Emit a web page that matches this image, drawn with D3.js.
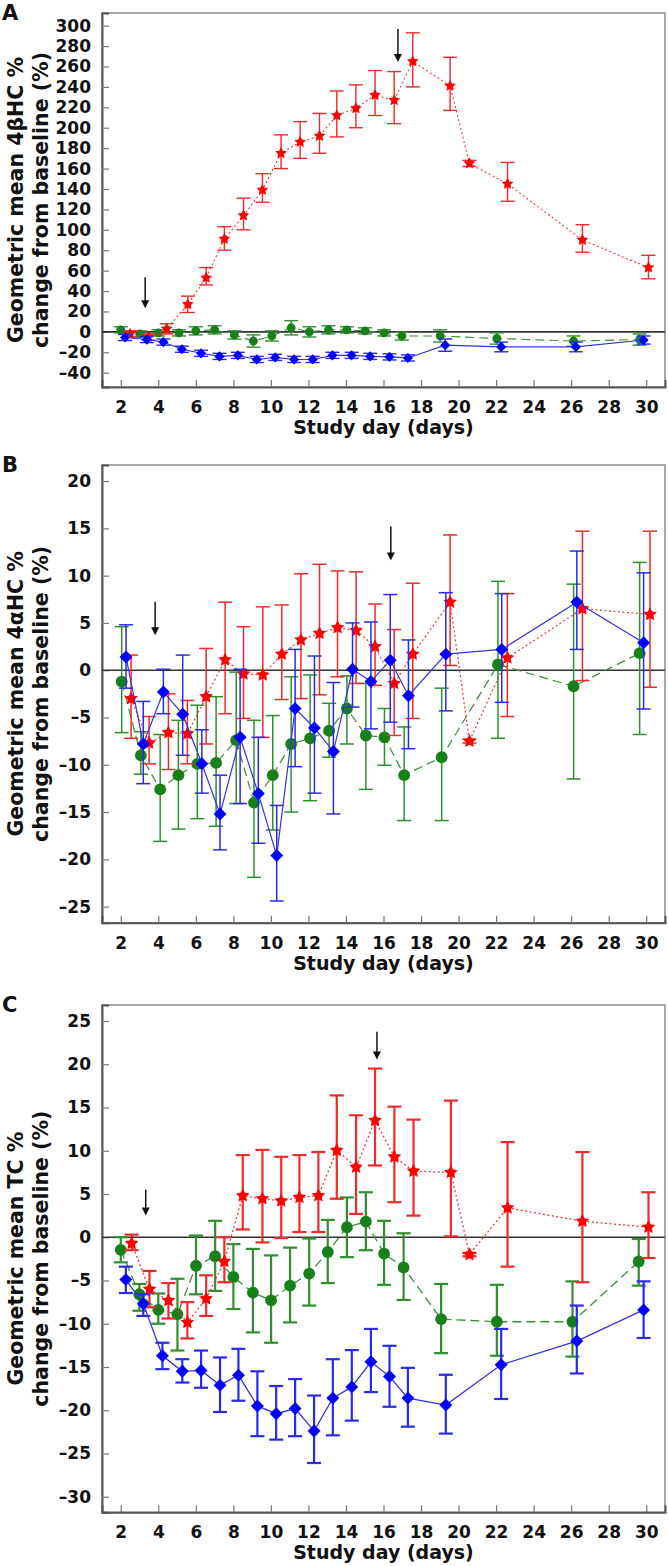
<!DOCTYPE html>
<html><head><meta charset="utf-8">
<script src="https://cdn.jsdelivr.net/npm/d3@7"></script>
<style>
body{margin:0;background:#fff}
svg{display:block}
text{font-family:"DejaVu Sans",sans-serif;font-weight:bold;fill:#111}
</style>
</head><body>
<svg id="chart" width="668" height="1566"></svg>
<script>
// ---------- tick labels ----------
const xTickDays = [2,4,6,8,10,12,14,16,18,20,22,24,26,28,30];
const yTicksA = [-40,-20,0,20,40,60,80,100,120,140,160,180,200,220,240,260,280,300];
const yTicksB = [-25,-20,-15,-10,-5,0,5,10,15,20];
const yTicksC = [-30,-25,-20,-15,-10,-5,0,5,10,15,20,25];

// ---------- Panel A : 4βHC ----------
const aRedDay = [2.5,3.47,4.45,5.57,6.55,7.52,8.54,9.55,10.54,11.56,12.59,13.51,14.53,15.55,16.57,17.56,19.55,20.58,22.61,26.6,30.12];
const aRedVal = [-2,-5,3,27,53,91,114,139,175,186,192,212,219,232,227,265,241,165,145,90,63];
const aRedHi  = [1,-2,8,35,63,103,131,155,193,206,214,236,242,256,255,293,269,168,166,105,75];
const aRedLo  = [-5,-8,-2,19,46,80,100,127,160,170,175,191,200,212,204,240,217,162,128,78,52];

const aGreenDay = [2.0,3.03,4.0,5.1,6.0,7.0,8.05,9.07,10.05,11.08,12.05,13.07,14.05,15.02,16.03,16.98,19.02,22.04,26.13,29.65];
const aGreenVal = [2,-2,-1,-1,1,2,-3,-9,-4,4,0,2,2,1,-1,-4,-4,-6.5,-9,-7.5];
const aGreenHi  = [5,1,2,2,5,6,1,-3,1,11,5,6,5,4,2,0,2,-1,-4,-2];
const aGreenLo  = [-1,-5,-4,-4,-3,-2,-7,-15,-9,-3,-5,-2,-1,-2,-4,-8,-10,-12,-14,-13];

const aBlueDay = [2.23,3.39,4.27,5.25,6.28,7.26,8.24,9.25,10.23,11.24,12.23,13.28,14.3,15.29,16.32,17.3,19.29,22.27,26.25,29.86];
const aBlueVal = [-5.5,-7.5,-10,-17,-21,-24,-23,-27,-25,-27,-27,-23,-23,-24,-24.5,-25.5,-13,-14.7,-14.7,-8];
const aBlueHi  = [-2.5,-4.5,-7,-14,-18,-21,-20,-24,-22,-24,-24,-20,-20,-21,-21.5,-22.5,-7,-10,-10,-4];
const aBlueLo  = [-8.5,-10.5,-13,-20,-24,-27,-26,-30,-28,-30,-30,-26,-26,-27,-27.5,-28.5,-19,-19.5,-19.5,-12];

// arrows: [day, valueStart, valueTip]
const aArrows = [[3.3,53.6,23.2],[16.77,296.8,264.4]];

// ---------- Panel B : 4αHC ----------
const bRedDay = [2.55,3.51,4.54,5.55,6.55,7.56,8.54,9.57,10.58,11.6,12.59,13.55,14.54,15.55,16.57,17.56,19.55,20.58,22.6,26.6,30.2];
const bRedVal = [-3.0,-7.7,-6.6,-6.7,-2.8,1.1,-0.4,-0.5,1.7,3.2,3.9,4.5,4.2,2.5,-1.4,1.7,7.2,-7.5,1.3,6.5,5.9];
const bRedHi  = [1.6,-4.9,-2.5,-3.2,2.3,7.2,4.6,6.7,6.9,10.2,11.2,10.5,10.4,7.0,4.3,9.2,14.3,-7.3,8.1,14.7,14.7];
const bRedLo  = [-7.2,-9.9,-10.5,-9.9,-7.8,-4.6,-5.1,-7.1,-3.1,-3.0,-2.6,-0.7,-1.4,-1.6,-6.9,-5.1,0.5,-7.7,-4.9,-1.1,-1.8];

const bGreenDay = [2.05,3.07,4.1,5.07,6.08,7.08,8.15,9.1,10.1,11.08,12.09,13.1,14.05,15.06,16.05,17.1,19.1,22.1,26.13,29.65];
const bGreenVal = [-1.2,-9.0,-12.6,-11.1,-9.9,-9.8,-7.4,-14.0,-11.1,-7.8,-7.2,-6.4,-4.05,-6.9,-7.1,-11.1,-9.2,0.6,-1.7,1.8];
const bGreenHi  = [4.6,-6.5,-6.8,-5.3,-3.7,-2.8,-0.2,-5.3,-4.8,-0.7,-0.5,-3.5,-0.6,-1.4,-4.05,-6.0,-1.9,9.4,9.1,11.4];
const bGreenLo  = [-6.6,-11.0,-18.1,-16.8,-15.7,-16.5,-14.1,-21.9,-16.9,-15.0,-13.8,-9.2,-7.8,-12.6,-10.05,-15.9,-15.9,-7.2,-11.5,-6.8];

const bBlueDay = [2.28,3.2,4.27,5.3,6.32,7.29,8.36,9.33,10.31,11.29,12.32,13.33,14.35,15.33,16.36,17.33,19.32,22.3,26.3,29.86];
const bBlueVal = [1.4,-7.8,-2.3,-4.65,-9.9,-15.2,-7.1,-13.05,-19.6,-4.05,-6.1,-8.6,0.1,-1.2,1.06,-2.7,1.7,2.2,7.2,2.9];
const bBlueHi  = [4.8,-3.3,0.1,1.6,-6.3,-11.1,0.1,-7.1,-14.3,2.2,1.5,-1.3,5.0,5.1,8.0,3.2,8.2,8.1,12.6,10.3];
const bBlueLo  = [-1.9,-12.0,-4.6,-9.0,-13.0,-19.0,-14.1,-18.3,-24.4,-10.2,-13.0,-15.2,-3.9,-6.2,-5.5,-8.3,-4.3,-3.4,2.2,-4.1];

const bArrows = [[3.83,7.23,3.7],[16.39,15.2,11.6]];

// ---------- Panel C : TC ----------
const cRedDay = [2.58,3.53,4.54,5.55,6.55,7.52,8.5,9.55,10.55,11.52,12.53,13.51,14.54,15.55,16.58,17.6,19.59,20.58,22.61,26.6,30.12];
const cRedVal = [-0.7,-6.0,-7.3,-9.85,-7.1,-2.8,4.8,4.45,4.2,4.6,4.8,10.05,8.1,13.5,9.3,7.65,7.5,-2.0,3.4,1.85,1.16];
const cRedHi  = [0.3,-3.9,-5.3,-7.5,-4.4,0.0,9.5,10.1,9.3,9.5,9.85,16.4,14.1,19.5,15.1,13.6,15.8,-1.8,11.0,9.85,5.2];
const cRedLo  = [-1.5,-8.1,-9.4,-11.7,-9.1,-5.2,0.9,-0.6,-0.1,0.6,0.6,4.45,2.7,8.3,4.05,2.5,0.1,-2.2,-3.4,-5.2,-2.4];

const cGreenDay = [2.0,2.99,4.0,5.02,6.01,7.03,8.0,9.04,10.01,11.02,12.04,13.03,14.05,15.06,16.03,17.07,19.07,22.04,26.07,29.6];
const cGreenVal = [-1.46,-6.6,-8.4,-8.9,-3.3,-2.2,-4.6,-6.4,-7.3,-5.6,-4.2,-1.7,1.16,1.8,-1.9,-3.5,-9.46,-9.77,-9.77,-2.8];
const cGreenHi  = [0.0,-5.4,-6.5,-4.8,0.2,1.9,-0.8,-1.35,-2.1,-1.2,-0.15,2.0,4.6,5.2,1.9,0.46,-5.4,-5.5,-5.1,-0.2];
const cGreenLo  = [-2.9,-8.5,-10.0,-13.1,-6.6,-6.2,-8.3,-11.0,-12.2,-9.85,-7.9,-5.3,-2.3,-1.5,-5.5,-7.25,-13.4,-13.7,-13.8,-5.6];

const cBlueDay = [2.27,3.2,4.22,5.28,6.28,7.29,8.27,9.28,10.28,11.29,12.3,13.3,14.31,15.33,16.32,17.3,19.32,22.27,26.3,29.86];
const cBlueVal = [-4.9,-7.7,-13.7,-15.5,-15.4,-17.1,-15.95,-19.5,-20.4,-19.8,-22.4,-18.6,-17.3,-14.4,-16.1,-18.6,-19.4,-14.75,-12.0,-8.4];
const cBlueHi  = [-3.4,-6.6,-12.2,-14.1,-13.1,-13.9,-12.9,-15.5,-17.2,-16.4,-18.3,-14.1,-13.05,-10.6,-12.55,-15.1,-15.9,-10.6,-7.9,-5.1];
const cBlueLo  = [-6.45,-9.1,-15.25,-16.8,-17.4,-20.2,-18.9,-23.0,-23.4,-23.0,-26.1,-22.9,-21.2,-17.9,-19.6,-21.9,-22.7,-18.7,-15.75,-11.65];

const cArrows = [[3.33,5.49,2.51],[15.65,23.75,20.56]];

// ---------- styling ----------
const COL = {
  red:   {mark:"#ff0000", bar:"#ee2a2a", line:"#ee3838", dash:"2,2.5", shape:"star"},
  green: {mark:"#17801a", bar:"#2f8f2f", line:"#3a8f3a", dash:"9,5",   shape:"circle"},
  blue:  {mark:"#0000ff", bar:"#2a2aee", line:"#3434e8", dash:null,    shape:"diamond"}
};

// chunky five-point star: size = outer radius squared
const fatStar = {
  draw(ctx, size) {
    const r = Math.sqrt(size), ri = r * 0.5;
    for (let i = 0; i < 10; i++) {
      const a = -Math.PI/2 + i*Math.PI/5, rr = i % 2 ? ri : r;
      const px = Math.cos(a)*rr, py = Math.sin(a)*rr;
      if (i === 0) ctx.moveTo(px, py); else ctx.lineTo(px, py);
    }
    ctx.closePath();
  }
};

function zip(day, val, hi, lo){ return day.map((d,i)=>({day:d, v:val[i], hi:hi[i], lo:lo[i]})); }

const panels = [
  {label:"A", top:13, bottom:387, ydom:[-54,312.4], yticks:yTicksA,
   ytitle:["Geometric mean 4\u03b2HC %","change from baseline (%)"],
   small:true, barW:1.4, lineW:1.1,
   series:[
     {c:"green", d:zip(aGreenDay,aGreenVal,aGreenHi,aGreenLo)},
     {c:"red",   d:zip(aRedDay,aRedVal,aRedHi,aRedLo)},
     {c:"blue",  d:zip(aBlueDay,aBlueVal,aBlueHi,aBlueLo)}],
   arrows:aArrows},
  {label:"B", top:465, bottom:922.7, ydom:[-26.7,21.7], yticks:yTicksB,
   ytitle:["Geometric mean 4\u03b1HC %","change from baseline (%)"],
   small:false, barW:1.5, lineW:1.2,
   series:[
     {c:"green", d:zip(bGreenDay,bGreenVal,bGreenHi,bGreenLo)},
     {c:"red",   d:zip(bRedDay,bRedVal,bRedHi,bRedLo)},
     {c:"blue",  d:zip(bBlueDay,bBlueVal,bBlueHi,bBlueLo)}],
   arrows:bArrows},
  {label:"C", top:1005, bottom:1512.3, ydom:[-31.8,26.85], yticks:yTicksC,
   ytitle:["Geometric mean TC %","change from baseline (%)"],
   small:false, barW:2.2, lineW:1.3,
   series:[
     {c:"green", d:zip(cGreenDay,cGreenVal,cGreenHi,cGreenLo)},
     {c:"red",   d:zip(cRedDay,cRedVal,cRedHi,cRedLo)},
     {c:"blue",  d:zip(cBlueDay,cBlueVal,cBlueHi,cBlueLo)}],
   arrows:cArrows}
];

const svg = d3.select("#chart");
const LEFT = 102, RIGHT = 665;
const fmt = v => v < 0 ? "\u2013" + Math.abs(v) : String(v);

panels.forEach(p => {
  const g = svg.append("g");
  const x = d3.scaleLinear().domain([1,31]).range([LEFT,RIGHT]);
  const y = d3.scaleLinear().domain(p.ydom).range([p.bottom,p.top]);

  // panel letter
  g.append("text").attr("x",2).attr("y",p.top+7).style("font-size","21px").text(p.label);

  // frame
  g.append("rect").attr("x",LEFT).attr("y",p.top).attr("width",RIGHT-LEFT).attr("height",p.bottom-p.top)
    .attr("fill","none").attr("stroke","#8a8a8a").attr("stroke-width",1.5);

  // axes (inward ticks)
  const yAx = g.append("g").attr("transform",`translate(${LEFT},0)`)
    .call(d3.axisLeft(y).tickValues(p.yticks).tickSize(-7).tickPadding(11).tickFormat(fmt));
  yAx.select(".domain").attr("stroke","#555").attr("stroke-width",2);
  yAx.selectAll(".tick line").attr("stroke","#777").attr("stroke-width",1.2);
  yAx.selectAll(".tick text").style("font-size","17px").attr("fill","#111")
     .style("font-family","'DejaVu Sans',sans-serif").style("font-weight","bold");

  const xAx = g.append("g").attr("transform",`translate(0,${p.bottom})`)
    .call(d3.axisBottom(x).tickValues(xTickDays).tickSize(-7).tickPadding(14).tickFormat(d=>String(d)));
  xAx.select(".domain").attr("stroke","#555").attr("stroke-width",2);
  xAx.selectAll(".tick line").attr("stroke","#777").attr("stroke-width",1.2);
  xAx.selectAll(".tick text").style("font-size","17px").attr("fill","#111")
     .style("font-family","'DejaVu Sans',sans-serif").style("font-weight","bold");

  // zero line
  g.append("line").attr("x1",LEFT).attr("x2",RIGHT).attr("y1",y(0)).attr("y2",y(0))
    .attr("stroke","#333").attr("stroke-width",1.6);

  // titles
  const cy = (p.top+p.bottom)/2;
  g.append("text").attr("transform",`translate(23,${cy}) rotate(-90)`).attr("text-anchor","middle")
    .style("font-size","20.5px").text(p.ytitle[0]);
  g.append("text").attr("transform",`translate(48,${cy}) rotate(-90)`).attr("text-anchor","middle")
    .style("font-size","20.5px").text(p.ytitle[1]);
  g.append("text").attr("x",(LEFT+RIGHT)/2).attr("y",p.bottom+47).attr("text-anchor","middle")
    .style("font-size","19px").text("Study day (days)");

  // symbols
  const sz = p.small ? {star:38, circle:62, diamond:52} : {star:52, circle:110, diamond:84};
  const sym = {
    star: d3.symbol().type(fatStar).size(sz.star),
    circle: d3.symbol().type(d3.symbolCircle).size(sz.circle),
    diamond: d3.symbol().type(d3.symbolSquare).size(sz.diamond)
  };
  const cap = 7;

  p.series.forEach(s => {
    const st = COL[s.c];
    const sg = g.append("g");
    // error bars
    const eb = sg.append("g").attr("stroke",st.bar).attr("stroke-width",p.barW).attr("fill","none");
    s.d.forEach(d => {
      eb.append("line").attr("x1",x(d.day)).attr("x2",x(d.day)).attr("y1",y(d.hi)).attr("y2",y(d.lo));
      eb.append("line").attr("x1",x(d.day)-cap).attr("x2",x(d.day)+cap).attr("y1",y(d.hi)).attr("y2",y(d.hi));
      eb.append("line").attr("x1",x(d.day)-cap).attr("x2",x(d.day)+cap).attr("y1",y(d.lo)).attr("y2",y(d.lo));
    });
    // connecting line
    sg.append("path").datum(s.d)
      .attr("d", d3.line().x(d=>x(d.day)).y(d=>y(d.v)))
      .attr("fill","none").attr("stroke",st.line).attr("stroke-width",p.lineW)
      .attr("stroke-dasharray",st.dash);
    // markers
    sg.selectAll(".m").data(s.d).join("path")
      .attr("transform",d=>`translate(${x(d.day)},${y(d.v)})` + (st.shape==="diamond" ? " rotate(45)" : ""))
      .attr("d", sym[st.shape]())
      .attr("fill",st.mark);
  });

  // arrows
  p.arrows.forEach(a => {
    const ax = x(a[0]), y0 = y(a[1]), y1 = y(a[2]);
    g.append("line").attr("x1",ax).attr("x2",ax).attr("y1",y0).attr("y2",y1-6)
      .attr("stroke","#111").attr("stroke-width",1.5);
    g.append("path").attr("d",`M${ax-4},${y1-8} L${ax+4},${y1-8} L${ax},${y1} Z`).attr("fill","#111");
  });
});
</script>
</body></html>
